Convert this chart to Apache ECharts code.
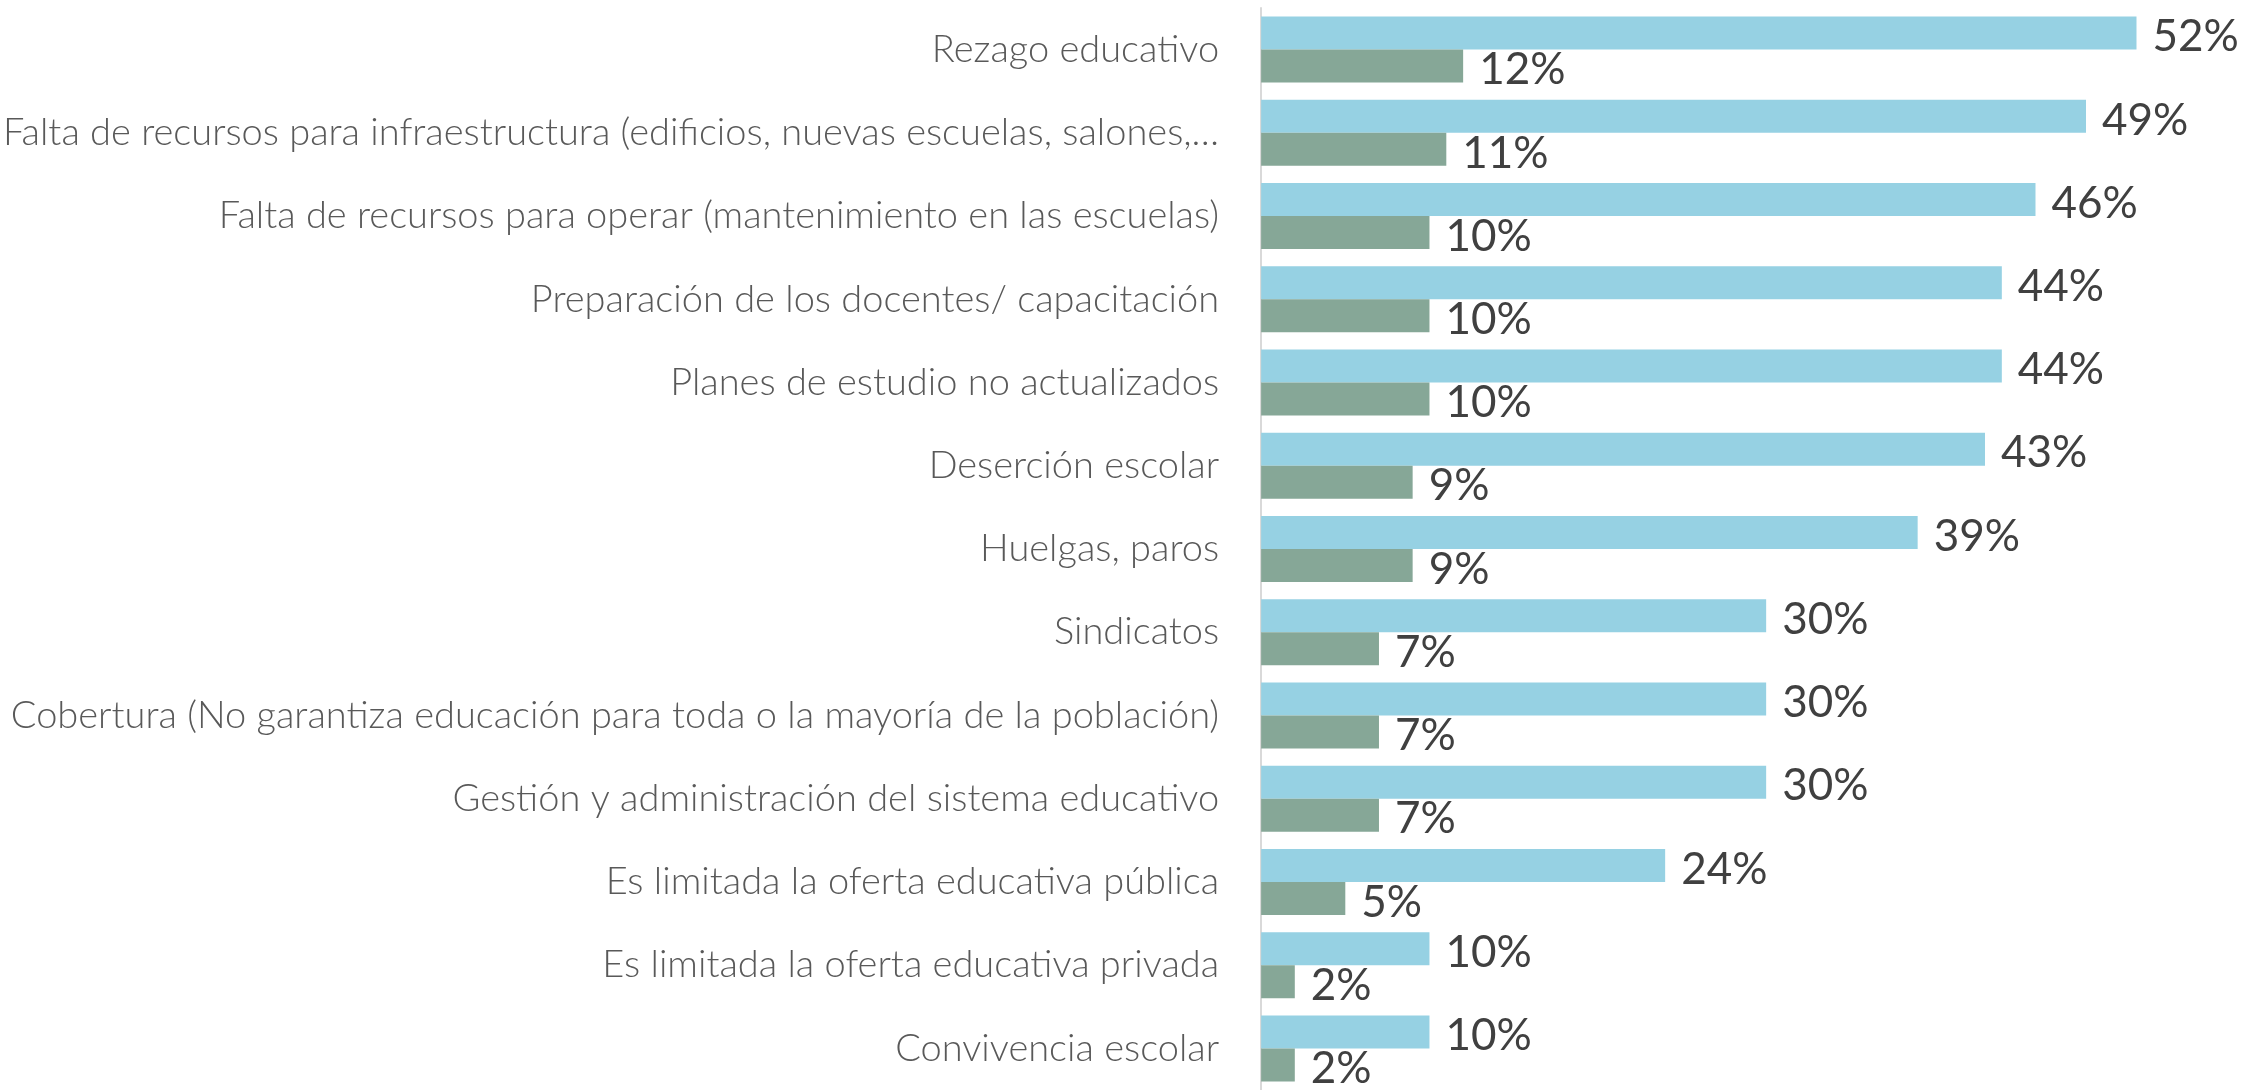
<!DOCTYPE html>
<html>
<head>
<meta charset="utf-8">
<script src="https://cdn.jsdelivr.net/npm/echarts@6/dist/echarts.min.js"></script>
<style>
	html, body { margin: 0; padding: 0; background: #fff; }
	#chart { width: 2264px; height: 1090px; }
</style>
</head>
<body>
<div id="chart"></div>
<script>
var categories = [
	"Rezago educativo",
	"Falta de recursos para infraestructura (edificios, nuevas escuelas, salones,…",
	"Falta de recursos para operar (mantenimiento en las escuelas)",
	"Preparación de los docentes/ capacitación",
	"Planes de estudio no actualizados",
	"Deserción escolar",
	"Huelgas, paros",
	"Sindicatos",
	"Cobertura (No garantiza educación para toda o la mayoría de la población)",
	"Gestión y administración del sistema educativo",
	"Es limitada la oferta educativa pública",
	"Es limitada la oferta educativa privada",
	"Convivencia escolar"
];
var blueValues = [52, 49, 46, 44, 44, 43, 39, 30, 30, 30, 24, 10, 10];
var greenValues = [12, 11, 10, 10, 10, 9, 9, 7, 7, 7, 5, 2, 2];

var chart = echarts.init(document.getElementById("chart"));

var valueLabel = {
	show: true,
	position: "right",
	distance: 16,
	offset: [0, 4],
	formatter: "{c}%",
	color: "#404040",
	fontFamily: "Lato",
	fontSize: 44
};

chart.setOption({
	animation: false,
	grid: { left: 1260, right: 77, top: 8, bottom: -8 },
	xAxis: {
		type: "value",
		min: 0,
		max: 55,
		show: false
	},
	yAxis: {
		type: "category",
		inverse: true,
		data: categories,
		axisLine: { show: true, lineStyle: { color: "#d9d9d9", width: 2 } },
		axisTick: { show: false },
		axisLabel: {
			margin: 42,
			color: "#595959",
			fontFamily: "Lato",
			fontWeight: 300,
			fontSize: 38
		}
	},
	series: [
		{
			type: "bar",
			data: blueValues,
			barWidth: 33,
			barGap: "0%",
			itemStyle: { color: "#96d1e3" },
			label: valueLabel
		},
		{
			type: "bar",
			data: greenValues,
			barWidth: 33,
			itemStyle: { color: "#86a797" },
			label: valueLabel
		}
	]
});
</script>
</body>
</html>
